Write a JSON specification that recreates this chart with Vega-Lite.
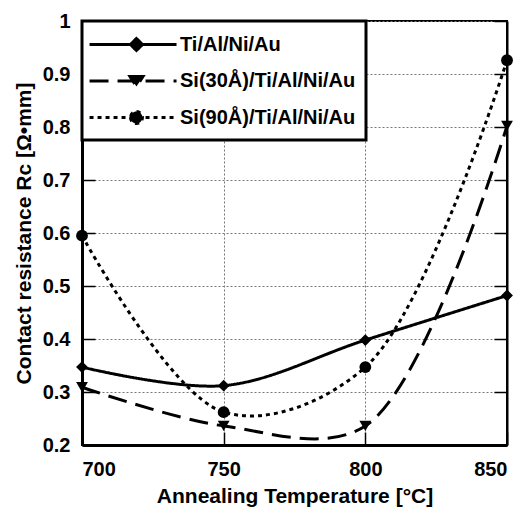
{
  "$schema": "https://vega.github.io/schema/vega-lite/v6.json",
  "autosize": "none",
  "width": 425,
  "height": 424,
  "padding": {"left": 82, "top": 21, "right": 17, "bottom": 63},
  "background": "white",
  "config": {
    "view": {"stroke": "black", "strokeWidth": 2},
    "font": "Liberation Sans",
    "axis": {
      "labelFont": "Liberation Sans",
      "labelFontWeight": "bold",
      "labelFontSize": 20,
      "labelColor": "black",
      "titleFont": "Liberation Sans",
      "titleFontWeight": "bold",
      "titleFontSize": 21,
      "titleColor": "black",
      "domainColor": "black",
      "tickColor": "black",
      "tickSize": -13,
      "tickWidth": 1.5,
      "gridColor": "#777777",
      "gridDash": [2, 2],
      "gridWidth": 1
    },
    "legend": {
      "strokeColor": "black",
      "strokeWidth": 3,
      "fillColor": "white",
      "padding": 10,
      "labelFont": "Liberation Sans",
      "labelFontWeight": "bold",
      "labelFontSize": 20,
      "labelColor": "black",
      "labelLimit": 400,
      "labelOffset": 61,
      "symbolSize": 576,
      "symbolStrokeWidth": 3,
      "symbolStrokeColor": "black",
      "symbolFillColor": "black",
      "rowPadding": 10.5
    }
  },
  "data": {
    "values": [
      {"T": 700, "Rc": 0.347, "series": "Ti/Al/Ni/Au"},
      {"T": 750, "Rc": 0.312, "series": "Ti/Al/Ni/Au"},
      {"T": 800, "Rc": 0.398, "series": "Ti/Al/Ni/Au"},
      {"T": 850, "Rc": 0.482, "series": "Ti/Al/Ni/Au"},
      {"T": 700, "Rc": 0.309, "series": "Si(30Å)/Ti/Al/Ni/Au"},
      {"T": 750, "Rc": 0.236, "series": "Si(30Å)/Ti/Al/Ni/Au"},
      {"T": 800, "Rc": 0.236, "series": "Si(30Å)/Ti/Al/Ni/Au"},
      {"T": 850, "Rc": 0.802, "series": "Si(30Å)/Ti/Al/Ni/Au"},
      {"T": 700, "Rc": 0.595, "series": "Si(90Å)/Ti/Al/Ni/Au"},
      {"T": 750, "Rc": 0.262, "series": "Si(90Å)/Ti/Al/Ni/Au"},
      {"T": 800, "Rc": 0.347, "series": "Si(90Å)/Ti/Al/Ni/Au"},
      {"T": 850, "Rc": 0.926, "series": "Si(90Å)/Ti/Al/Ni/Au"}
    ]
  },
  "layer": [
    {
      "mark": {"type": "line", "interpolate": "catmull-rom", "color": "black", "strokeWidth": 3, "clip": false},
      "encoding": {
        "x": {
          "field": "T", "type": "quantitative",
          "scale": {"domain": [700, 850], "nice": false, "zero": false},
          "axis": {
            "values": [700, 750, 800, 850],
            "title": "Annealing Temperature [°C]",
            "domainWidth": 3,
            "labelPadding": 27,
            "titlePadding": 6,
            "grid": true
          }
        },
        "y": {
          "field": "Rc", "type": "quantitative",
          "scale": {"domain": [0.2, 1], "nice": false, "zero": false},
          "axis": {
            "orient": "left",
            "values": [0.2, 0.3, 0.4, 0.5, 0.6, 0.7, 0.8, 0.9, 1.0],
            "format": ".1~f",
            "title": "Contact resistance Rc [Ω•mm]",
            "domainWidth": 3,
            "labelPadding": 25,
            "titlePadding": 8,
            "grid": true
          }
        },
        "strokeDash": {
          "field": "series", "type": "nominal",
          "scale": {
            "domain": ["Ti/Al/Ni/Au", "Si(30Å)/Ti/Al/Ni/Au", "Si(90Å)/Ti/Al/Ni/Au"],
            "range": [[1, 0], [19, 9], [4, 4]]
          },
          "legend": {
            "title": null,
            "orient": "top-left",
            "offset": 0,
            "symbolType": {"expr": "datum.index === 0 ? 'M-1.33,0H5.92M2.58,-0.5L3.08,0L2.58,0.5L2.08,0Z' : datum.index === 1 ? 'M-1.33,0H5.92M2.04,-0.375H3.12L2.58,0.46Z' : 'M-1.33,0H5.92M2.08,0A0.5,0.5,0,1,0,3.08,0A0.5,0.5,0,1,0,2.08,0Z'"},
            "encode": {
              "symbols": {
                "update": {
                  "shape": {"signal": "datum.index === 0 ? 'M-1.33,0H5.92M2.58,-0.5L3.08,0L2.58,0.5L2.08,0Z' : datum.index === 1 ? 'M-1.33,0H5.92M2.04,-0.375H3.12L2.58,0.46Z' : 'M-1.33,0H5.92M2.08,0A0.5,0.5,0,1,0,3.08,0A0.5,0.5,0,1,0,2.08,0Z'"},
                  "fill": {"value": "black"},
                  "stroke": {"value": "black"}
                }
              }
            }
          }
        }
      }
    },
    {
      "mark": {"type": "point", "filled": true, "color": "black", "opacity": 1, "size": 140, "clip": false},
      "encoding": {
        "x": {"field": "T", "type": "quantitative"},
        "y": {
          "field": "Rc", "type": "quantitative",
          "axis": {
            "orient": "right",
            "labels": false,
            "title": null,
            "grid": false,
            "domainWidth": 2,
            "values": [0.2, 0.3, 0.4, 0.5, 0.6, 0.7, 0.8, 0.9, 1.0]
          }
        },
        "shape": {
          "field": "series", "type": "nominal",
          "scale": {
            "domain": ["Ti/Al/Ni/Au", "Si(30Å)/Ti/Al/Ni/Au", "Si(90Å)/Ti/Al/Ni/Au"],
            "range": ["diamond", "triangle-down", "circle"]
          },
          "legend": null
        }
      }
    }
  ],
  "resolve": {"axis": {"y": "independent"}, "scale": {"shape": "independent"}}
}
